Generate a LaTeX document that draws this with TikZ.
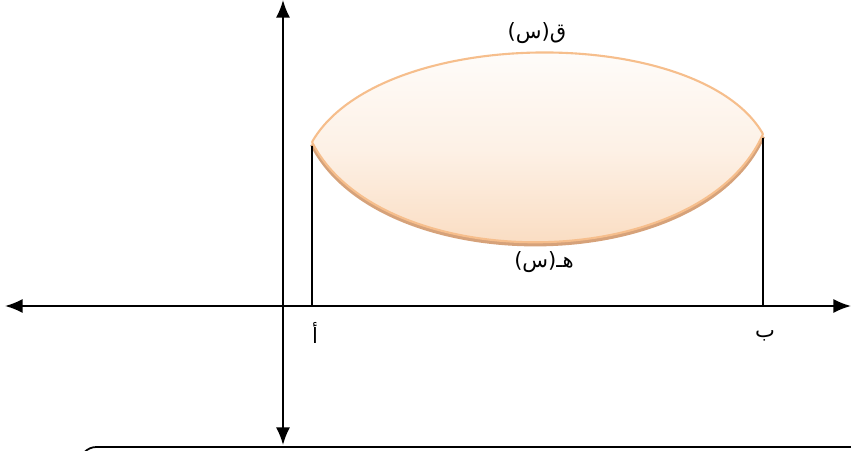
\documentclass[tikz,border=0pt]{standalone}
\usepackage{fontspec}
\usepackage{tikz}
\usetikzlibrary{arrows.meta}
\newfontfamily\arabicfont[Script=Arabic]{DejaVu Sans}
\TeXXeTstate=1
\definecolor{lensedge}{RGB}{246, 190, 140}
\definecolor{lensfill}{RGB}{249, 214, 182}
\definecolor{lensshade}{RGB}{214, 162, 122}

\begin{document}
\begin{tikzpicture}[x=0.03cm, y=-0.03cm, >={Latex[length=15pt,width=12pt]}]
    \useasboundingbox (0,0) rectangle (851,450);
    \tikzset{axis/.style={black, line width=1.6pt},
             lbl/.style={font=\arabicfont\fontsize{18}{20}\selectfont, inner sep=1pt}}
    % axes
    \coordinate (o)  at (283,306);
    \coordinate (xl) at (5,306);
    \coordinate (xr) at (851,306);
    \coordinate (yt) at (283,0);
    \coordinate (yb) at (283,445);
    \draw[axis, <->] (xl) -- (xr);
    \draw[axis, <->] (yt) -- (yb);
    % end points of the region
    \coordinate (pa) at (312,142);
    \coordinate (pb) at (763,134);
    % shadow under the lower curve
    \draw[lensshade, line width=3.5pt] ([yshift=-2pt]pa) .. controls (380,279) and (700,279) .. ([yshift=-2pt]pb);
    \shade[top color=white, bottom color=lensfill, middle color=lensfill!35]
        (pa) .. controls (380,24) and (700,24) .. (pb)
             .. controls (700,277) and (380,277) .. (pa) -- cycle;
    \draw[lensedge, line width=1.8pt] (pa) .. controls (380,24) and (700,24) .. (pb);
    \draw[lensedge, line width=1.8pt] (pa) .. controls (380,277) and (700,277) .. (pb);
    % verticals down to the axis
    \draw[black, line width=1.2pt] ([yshift=-3pt]pa) -- (pa |- o);
    \draw[black, line width=1.2pt] ([yshift=-3pt]pb) -- (pb |- o);
    % labels
    \node[lbl] (f) at (537,33) {\beginR ق(س)\endR};
    \node[lbl] (g) at (544,262) {\beginR هـ(س)\endR};
    \node[lbl] (a) at (315,333) {\beginR أ\endR};
    \node[lbl] (b) at (765,336) {\beginR ب\endR};
    % box below
    \begin{scope}
        \clip (0,0) rectangle (851,450);
        \draw[black, line width=1.5pt, rounded corners=14pt] (80,447) rectangle (900,520);
    \end{scope}
\end{tikzpicture}
\end{document}
